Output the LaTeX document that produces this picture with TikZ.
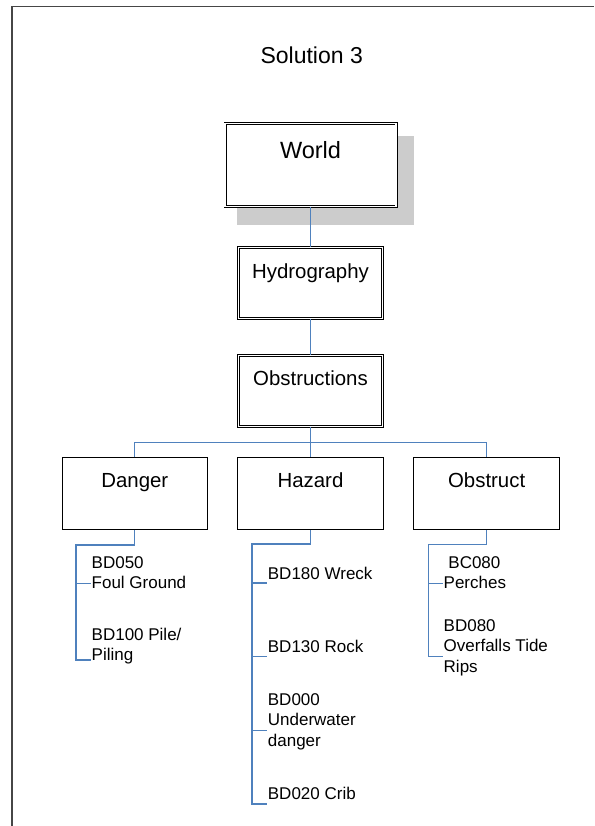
\documentclass[tikz,border=0pt]{standalone}
\usepackage{fontspec}
\setmainfont{Liberation Sans}
\newcommand\leaflines[1]{\begin{tabular}[t]{@{}l@{}}#1\end{tabular}}
\definecolor{linkblue}{RGB}{79,129,189}
\definecolor{framegray}{RGB}{70,70,70}
\begin{document}
\begin{tikzpicture}[x=1pt,y=-1pt,
  box/.style={draw=black, fill=white, line width=0.9pt, inner sep=0pt, anchor=base,
    font=\fontsize{20.4}{24}\selectfont, minimum width=145.5pt,
    text height=30.1pt, text depth=42pt},
  dbox/.style={box, double=white, double distance=1.4pt, line width=0.8pt},
  link/.style={draw=linkblue, line width=1.2pt},
  leaf/.style={anchor=base west, inner sep=0pt, font=\fontsize{17}{20.5}\selectfont},
  titletext/.style={anchor=base, inner sep=0pt, font=\fontsize{23}{27}\selectfont}]
\useasboundingbox (0,0) rectangle (594,826);

% page frame (open to the right and below)
\draw[framegray, line width=1.2pt] (12,826) -- (12,6.5) -- (594,6.5);

\node[titletext] (title) at (311.7,63.3) {Solution 3};

% root with drop shadow
\fill[gray!40] (237,136) rectangle (414,225);
\node[dbox, font=\fontsize{23.5}{28}\selectfont, minimum width=171pt,
      text height=35.5pt, text depth=47.5pt] (world) at (310.5,159) {World};

\node[dbox, minimum width=144pt, text height=30.8pt, text depth=40.2pt]
  (hydro) at (310.5,278.3) {Hydrography};
\node[dbox, minimum width=144pt, text height=29.8pt, text depth=41.2pt]
  (obst) at (310.5,385.3) {Obstructions};

\node[box] (danger)   at (134.85,487.3) {Danger};
\node[box] (hazard)   at (310.5,487.3)  {Hazard};
\node[box] (obstruct) at (486.65,487.3) {Obstruct};

% upper connectors
\coordinate (bus) at (310.5,442.3);
\draw[link] (world.south) -- (hydro.north);
\draw[link] (hydro.south) -- (obst.north);
\draw[link] (obst.south) -- (bus);
\draw[link] (danger.north) |- (bus) -| (obstruct.north);
\draw[link] (bus) -- (hazard.north);

% Danger leaves
\coordinate (dA) at (76,545);
\coordinate (dT1) at (91,583.7);
\coordinate (dT2) at (91,660);
\draw[link] (danger.south) |- (dA) |- (dT2);
\draw[link] (dA |- dT1) -- (dT1);
\node[leaf] (d1) at (91.5,568.3) {\leaflines{BD050\\Foul Ground}};
\node[leaf] (d2) at (91.5,640) {\leaflines{BD100 Pile/\\Piling}};

% Hazard leaves
\coordinate (hA) at (252,544);
\coordinate (hT1) at (266.7,583);
\coordinate (hT2) at (266.7,656.7);
\coordinate (hT3) at (266.7,730.7);
\coordinate (hT4) at (266.7,804);
\draw[link] (hazard.south) |- (hA) |- (hT4);
\draw[link] (hA |- hT1) -- (hT1);
\draw[link] (hA |- hT2) -- (hT2);
\draw[link] (hA |- hT3) -- (hT3);
\node[leaf] (h1) at (267.7,579.3) {\leaflines{BD180 Wreck}};
\node[leaf] (h2) at (267.7,652.7) {\leaflines{BD130 Rock}};
\node[leaf] (h3) at (267.7,705.3) {\leaflines{BD000\\Underwater\\danger}};
\node[leaf] (h4) at (267.7,799.3) {\leaflines{BD020 Crib}};

% Obstruct leaves
\coordinate (oA) at (428.3,544.3);
\coordinate (oT1) at (443.3,583.3);
\coordinate (oT2) at (443.3,656.7);
\draw[link] (obstruct.south) |- (oA) |- (oT2);
\draw[link] (oA |- oT1) -- (oT1);
\node[leaf] (o1) at (443.5,568.3) {\leaflines{\ BC080\\Perches}};
\node[leaf] (o2) at (443.5,631) {\leaflines{BD080\\Overfalls Tide\\Rips}};
\end{tikzpicture}
\end{document}
